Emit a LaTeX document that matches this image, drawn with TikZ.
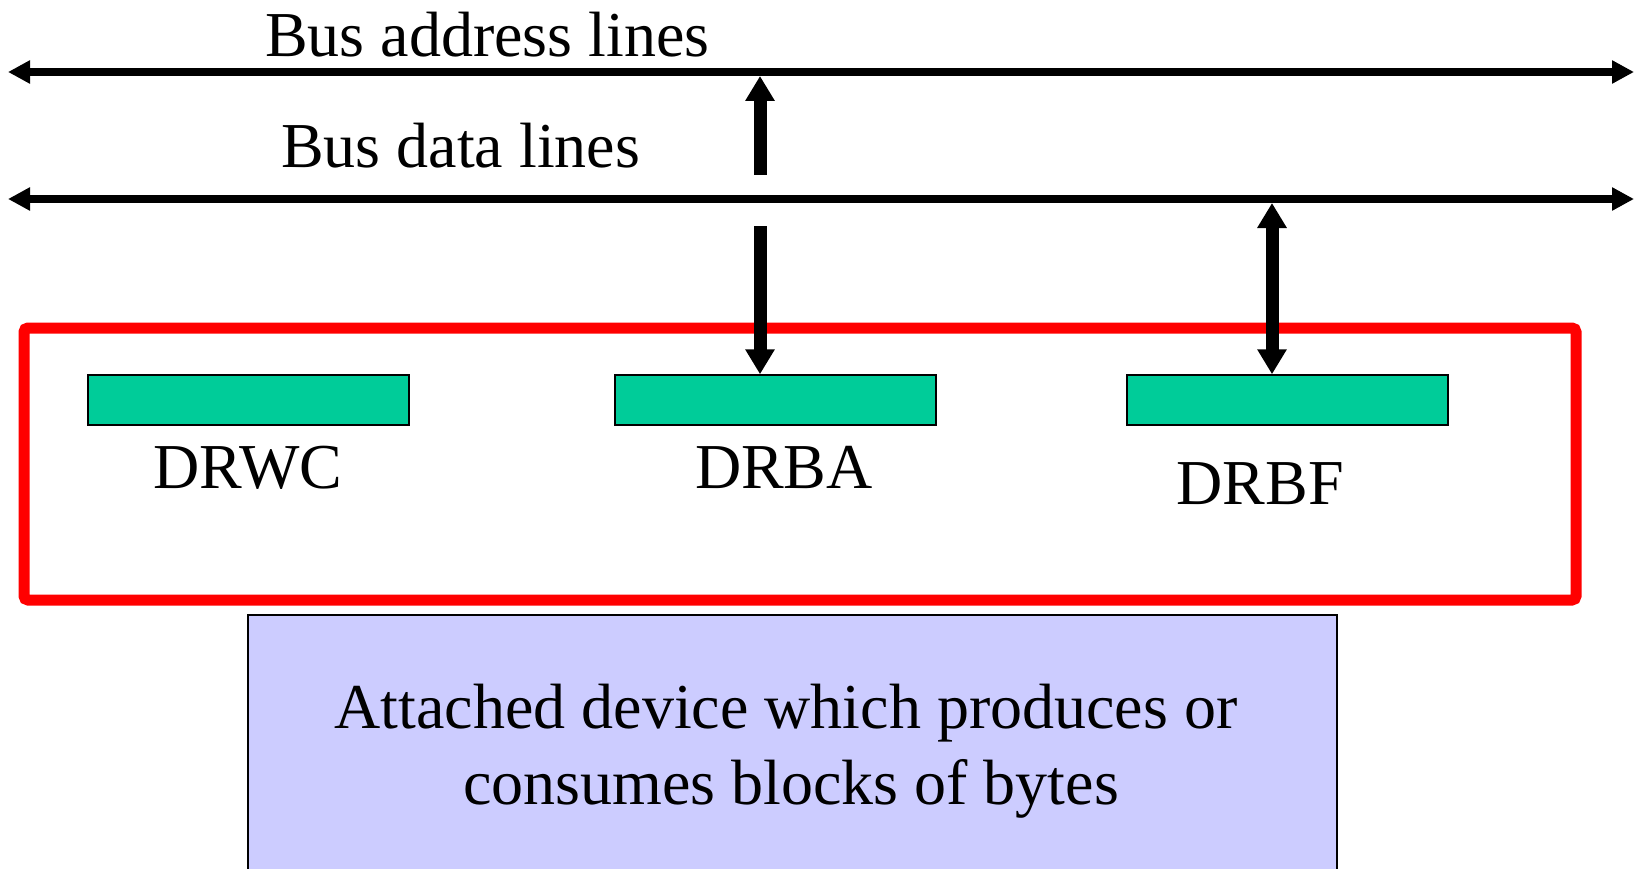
\documentclass[tikz,border=0pt]{standalone}
\usepackage{fontspec}
\setmainfont{Liberation Serif}
\usetikzlibrary{arrows.meta}
\definecolor{regfill}{RGB}{0,204,153}
\definecolor{devfill}{RGB}{204,204,255}
\tikzset{
  busline/.style={line width=8pt,
    {Triangle[length=22pt,width=22pt]}-{Triangle[length=22pt,width=22pt]}},
  oneway/.style={line width=13pt, -{Triangle[length=25pt,width=28pt]}},
  twoway/.style={line width=13pt,
    {Triangle[length=25pt,width=28pt]}-{Triangle[length=25pt,width=28pt]}},
  register/.style={draw=black, line width=1.5pt, fill=regfill, inner sep=0pt,
    minimum width=321pt, minimum height=50pt},
  interface/.style={draw=red, line width=11pt, rounded corners=4pt, inner sep=0pt,
    minimum width=1552pt, minimum height=272pt},
  lbl/.style={font=\fontsize{64}{76}\selectfont, inner sep=0pt}
}
\begin{document}
\begin{tikzpicture}[x=1pt,y=-1pt]
\useasboundingbox (0,0) rectangle (1635,869);

% system bus
\coordinate (addrL) at (8,72);
\coordinate (addrR) at (1634,72);
\coordinate (dataL) at (8,199);
\coordinate (dataR) at (1634,199);
\draw[busline] (addrL) -- (addrR);
\draw[busline] (dataL) -- (dataR);
\node[lbl, anchor=base west] (addrlbl) at (265,57) {Bus address lines};
\node[lbl, anchor=base west] (datalbl) at (281,168) {Bus data lines};

% DMA interface with its registers
\node[interface] (card) at (800,464) {};
\node[register] (drwc) at (248.5,400) {};
\node[register] (drba) at (775.5,400) {};
\node[register] (drbf) at (1287.5,400) {};
\node[lbl, anchor=base] (drwclbl) at (248,488) {DRWC};
\node[lbl, anchor=base] (drbalbl) at (784,488) {DRBA};
\node[lbl, anchor=base] (drbflbl) at (1260,504) {DRBF};

% attached device
\node[draw=black, line width=1.5pt, fill=devfill, inner sep=0pt,
  minimum width=1089pt, minimum height=280pt] (device) at (792.5,755) {};
\node[lbl, anchor=base] (devline1) at (786,728) {Attached device which produces or};
\node[lbl, anchor=base] (devline2) at (791,804) {consumes blocks of bytes};

% register connections
\coordinate (addrtap) at (760,76);
\coordinate (drbaup) at (760,175);
\coordinate (drbadown) at (760,226);
\coordinate (datatap) at (1272,203);
\draw[oneway] (drbaup) -- (addrtap);
\draw[oneway] (drbadown) -- (drba.north -| drbadown);
\draw[twoway] (datatap) -- (drbf.north -| datatap);
\end{tikzpicture}
\end{document}
